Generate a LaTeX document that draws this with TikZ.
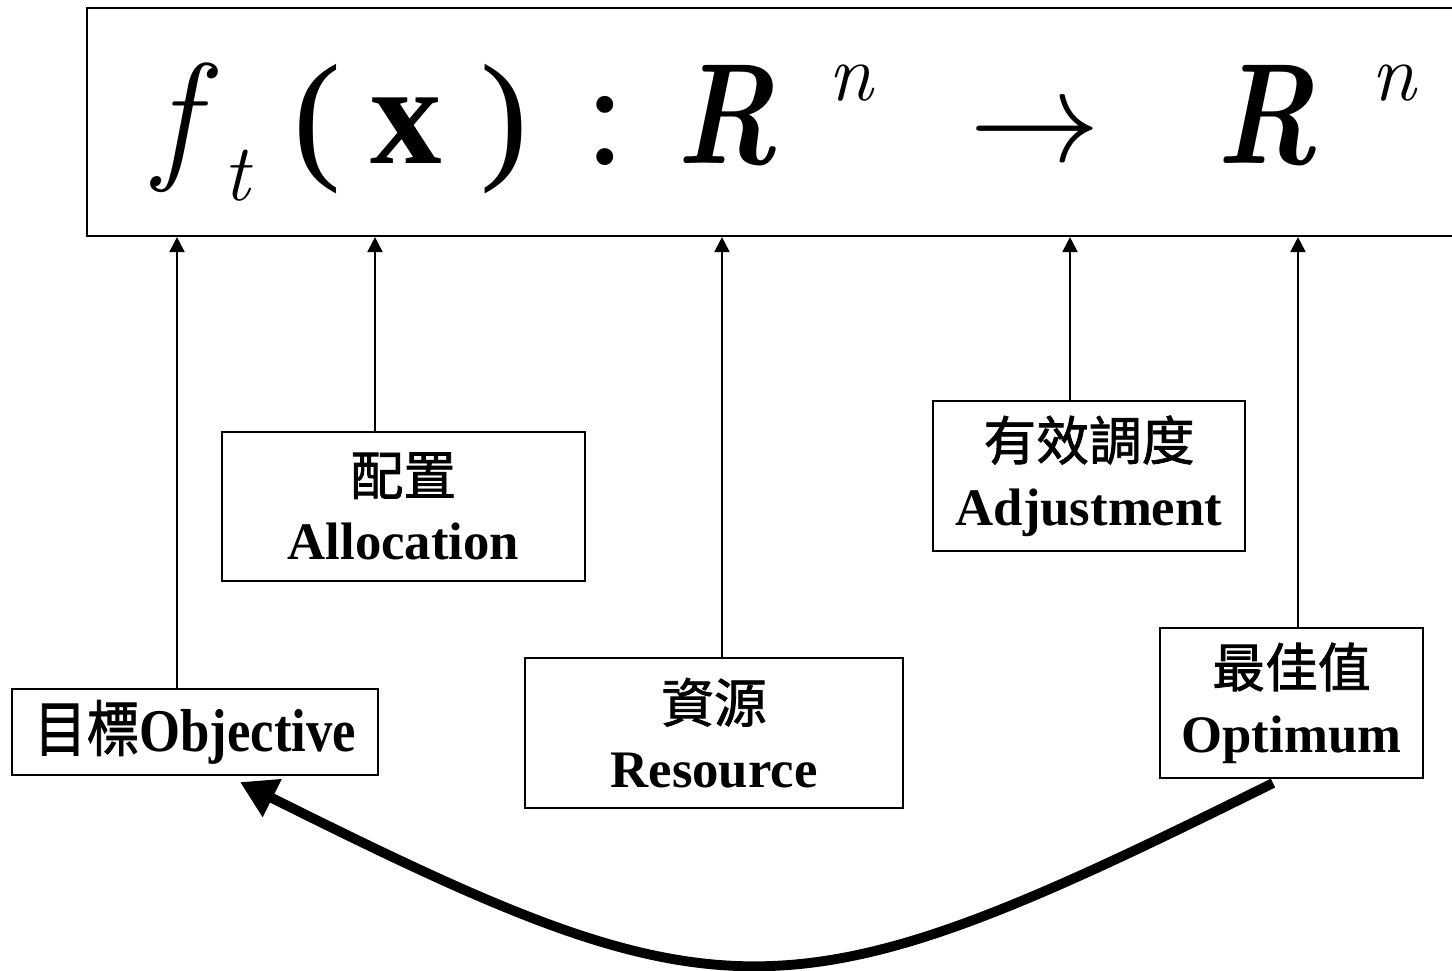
\documentclass[tikz,border=0pt]{standalone}
\usepackage{fix-cm}
\usepackage{fontspec}
\setmainfont{Liberation Serif}
\newfontfamily\cjk{Noto Sans CJK TC}[FakeBold=1.5]
\newfontfamily\lmr{Latin Modern Roman}
\usetikzlibrary{arrows.meta}

\begin{document}
\begin{tikzpicture}[x=0.1mm, y=-0.1mm,
  box/.style={draw, line width=0.6pt, inner sep=0pt, align=center,
    font=\fontsize{15}{18.5}\selectfont\bfseries},
  sym/.style={anchor=base, inner sep=0pt, font=\fontsize{40.7}{48}\selectfont},
  idx/.style={anchor=base, inner sep=0pt, font=\fontsize{23}{27}\selectfont\lmr\itshape},
  up/.style={-{Triangle[length=1.5mm, width=1.5mm]}, line width=0.6pt}]
\useasboundingbox (0,0) rectangle (1452,971);
% mapping f_t(x)
\node[draw, line width=0.6pt, minimum width=138.3mm, minimum height=22.8mm,
  inner sep=0pt] (top) at (778.5,122) {};
\node[sym] (f) at (176,163) {\lmr\itshape f};
\node[idx] (t) at (237,200) {t};
\node[sym] (lp) at (317,163) {(};
\node[sym] (xv) at (406,163) {\bfseries x};
\node[sym] (rp) at (504,163) {)};
\node[sym] (colon) at (605,163) {:};
\node[sym] (R1) at (727,163) {\scalebox{0.82}[1]{\lmr\bfseries\itshape R}};
\node[idx] (n1) at (851,100) {n};
\node[sym, font=\fontsize{37.3}{40}\selectfont] (to) at (1035,161) {$\rightarrow$};
\node[sym] (R2) at (1267,163) {\scalebox{0.82}[1]{\lmr\bfseries\itshape R}};
\node[idx] (n2) at (1394,100) {n};
% boxes
\node[box, minimum width=36.6mm, minimum height=8.6mm] (obj) at (195,732)
  {\scalebox{1}[1.15]{{\cjk\mdseries 目標}Objective}};
\node[box, minimum width=36.3mm, minimum height=14.9mm] (alloc) at (403.5,506.5)
  {{\cjk\mdseries 配置}\\Allocation};
\node[box, minimum width=37.8mm, minimum height=15mm] (res) at (714,733)
  {{\cjk\mdseries 資源}\\Resource};
\node[box, minimum width=31.2mm, minimum height=15mm] (adj) at (1089,476)
  {{\cjk\mdseries 有效調度}\\Adjustment};
\node[box, minimum width=26.3mm, minimum height=15mm] (opt) at (1291.5,703)
  {{\cjk\mdseries 最佳值}\\Optimum};
% links
\coordinate (hf) at (177,236);
\coordinate (hx) at (375,236);
\coordinate (hR) at (722,236);
\coordinate (hto) at (1070,236);
\coordinate (hR2) at (1298,236);
\draw[up] (obj.north -| hf) -- (hf |- top.south);
\draw[up] (alloc.north -| hx) -- (hx |- top.south);
\draw[up] (res.north -| hR) -- (hR |- top.south);
\draw[up] (adj.north -| hto) -- (hto |- top.south);
\draw[up] (opt.north -| hR2) -- (hR2 |- top.south);
% feedback
\draw[line width=2.8pt, -{Triangle[length=3.6mm, width=4mm]}]
  ([shift={(-1.85mm,-0.4mm)}]opt.south) .. controls (786,1025) and (727,1025)
  .. ([shift={(4.5mm,-0.6mm)}]obj.south);
\end{tikzpicture}
\end{document}
